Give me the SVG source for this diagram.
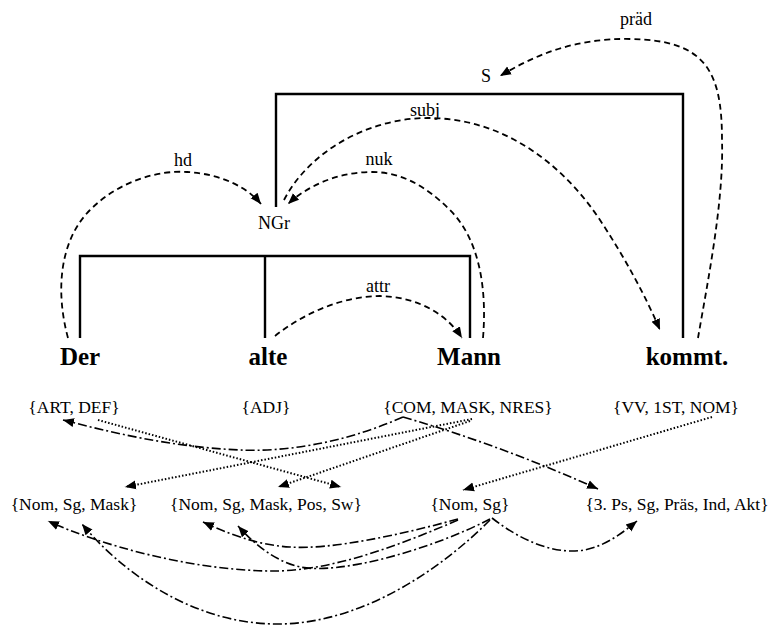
<svg xmlns="http://www.w3.org/2000/svg" width="773" height="626" viewBox="0 0 773 626">
<style>
text{font-family:"Liberation Serif","Times New Roman",serif;fill:#000;text-anchor:middle}
.lbl{font-size:18px}
.feat{font-size:17.5px}
.word{font-size:25px;font-weight:bold}
.br{fill:none;stroke:#000;stroke-width:2.4}
.dash{fill:none;stroke:#000;stroke-width:1.8;stroke-dasharray:6 4}
.dot{fill:none;stroke:#000;stroke-width:2;stroke-dasharray:1.5 2}
.dd{fill:none;stroke:#000;stroke-width:1.6;stroke-dasharray:9 3 2 3}
</style>
<defs>
<marker id="ah" markerUnits="userSpaceOnUse" markerWidth="12" markerHeight="12" viewBox="0 0 12 12" refX="11" refY="6" orient="auto">
<path d="M0,1.5 L11,6 L0,10.5 Z" fill="#000"/>
</marker>
</defs>
<g id="nodes">
<g id="n-S"><text class="lbl" x="486" y="82">S</text><path class="br" d="M276,207 V94 H683 V338"/></g>
<g id="n-NGr"><text class="lbl" x="274" y="229">NGr</text><path class="br" d="M80,338 V256 H470 V338 M265,256 V338"/></g>
<g id="n-der"><text class="word" x="80" y="365">Der</text></g>
<g id="n-alte"><text class="word" x="268" y="365">alte</text></g>
<g id="n-mann"><text class="word" x="469" y="365">Mann</text></g>
<g id="n-kommt"><text class="word" x="687" y="365">kommt.</text></g>
<g id="f-artdef"><text class="feat" x="74" y="413">{ART, DEF}</text></g>
<g id="f-adj"><text class="feat" x="266" y="413">{ADJ}</text></g>
<g id="f-com"><text class="feat" x="468" y="413">{COM, MASK, NRES}</text></g>
<g id="f-vv"><text class="feat" x="676" y="413">{VV, 1ST, NOM}</text></g>
<g id="m-nsm"><text class="feat" x="74" y="510">{Nom, Sg, Mask}</text></g>
<g id="m-nsmps"><text class="feat" x="266" y="510">{Nom, Sg, Mask, Pos, Sw}</text></g>
<g id="m-ns"><text class="feat" x="470" y="510">{Nom, Sg}</text></g>
<g id="m-3ps"><text class="feat" x="677" y="510">{3. Ps, Sg, Präs, Ind, Akt}</text></g>
</g>
<g id="connectors">
<text class="lbl" x="636" y="25">präd</text>
<text class="lbl" x="425" y="116">subj</text>
<text class="lbl" x="183" y="166">hd</text>
<text class="lbl" x="379" y="165">nuk</text>
<text class="lbl" x="378" y="292">attr</text>
<path class="dash" marker-end="url(#ah)" d="M698,338 C708,280 724,200 722,140 C722,70 705,40 630,39 C575,38 535,55 500,76"/>
<path class="dash" marker-end="url(#ah)" d="M284,200 C310,150 370,118 428,118 C500,118 560,160 600,220 C625,258 645,295 660,330"/>
<path class="dash" marker-end="url(#ah)" d="M68,338 C55,290 60,240 90,210 C120,180 160,170 187,172 C222,174 248,188 261,204"/>
<path class="dash" marker-end="url(#ah)" d="M483,338 C487,290 480,240 450,210 C425,185 400,172 372,172 C335,172 305,188 288,204"/>
<path class="dash" marker-end="url(#ah)" d="M275,336 C305,312 345,296 380,296 C420,297 448,316 462,338"/>
<path class="dot" marker-end="url(#ah)" d="M98,420 L341,487"/>
<path class="dot" marker-end="url(#ah)" d="M472,419 L125,487"/>
<path class="dot" marker-end="url(#ah)" d="M470,421 L278,487"/>
<path class="dot" marker-end="url(#ah)" d="M712,417 L463,490"/>
<path class="dd" marker-end="url(#ah)" d="M403,417 C340,445 280,452 240,450 C170,447 110,432 63,420"/>
<path class="dd" marker-end="url(#ah)" d="M403,417 Q500,445 598,489"/>
<path class="dd" marker-end="url(#ah)" d="M492,518 C520,540 550,552 575,551 C600,550 620,535 637,521"/>
<path class="dd" marker-end="url(#ah)" d="M458,519 C400,535 330,550 290,547 C255,545 225,532 203,522"/>
<path class="dd" marker-end="url(#ah)" d="M490,519 C430,550 340,575 300,567 C275,561 255,545 238,526"/>
<path class="dd" marker-end="url(#ah)" d="M458,520 C400,545 330,572 270,571 C190,570 100,545 48,521"/>
<path class="dd" marker-end="url(#ah)" d="M490,520 C440,570 360,625 275,624 C190,623 120,570 82,524"/>
</g>
</svg>
